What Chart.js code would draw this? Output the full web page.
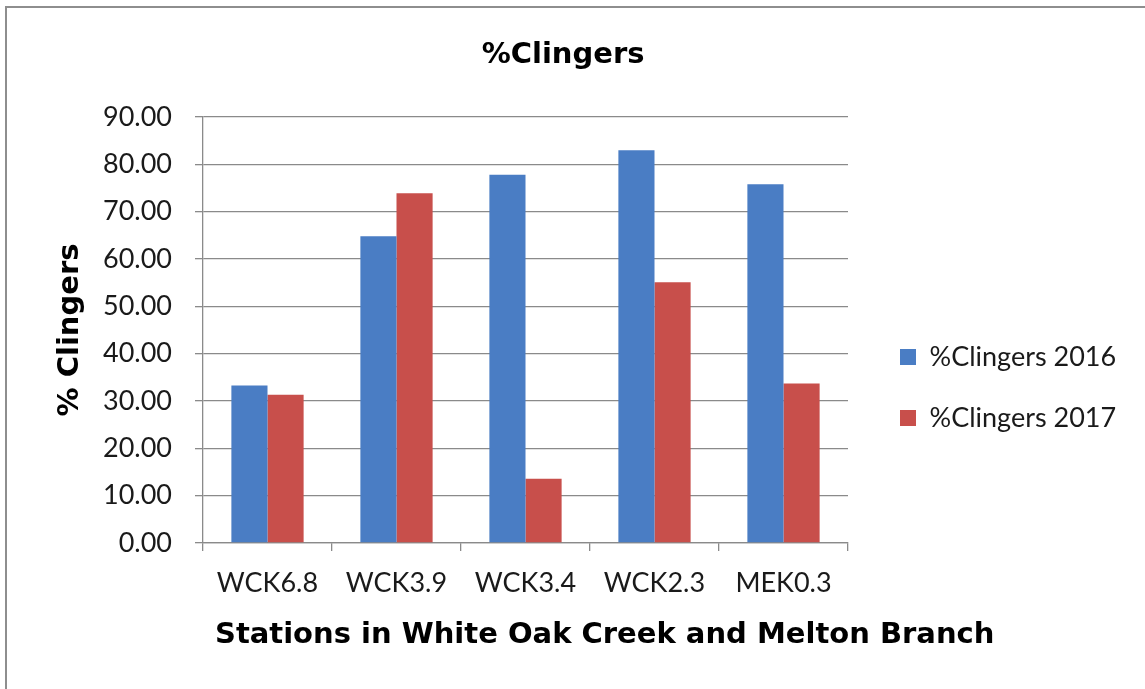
<!DOCTYPE html>
<html>
<head>
<meta charset="utf-8">
<title>%Clingers</title>
<script src="https://cdn.jsdelivr.net/npm/chart.js@4.4.1/dist/chart.umd.min.js"></script>
<style>
  html, body { margin: 0; padding: 0; background: #fff; }
  #wrap { position: relative; width: 1145px; height: 689px; }
  #wrap canvas { position: absolute; left: 0; top: 0; }
  /* thin frame round the chart, like the exported picture */
  #frame { position: absolute; left: 5px; top: 6px; right: 0; bottom: 0;
           border-top: 2px solid #8e8e8e; border-left: 2px solid #8e8e8e; pointer-events: none; }
</style>
</head>
<body>
<div id="wrap">
  <canvas id="clingers" width="1145" height="689"></canvas>
  <div id="frame"></div>
</div>
<script>
const stations = ['WCK6.8', 'WCK3.9', 'WCK3.4', 'WCK2.3', 'MEK0.3'];
const clingers2016 = [33.3, 64.8, 77.8, 83.0, 75.8];
const clingers2017 = [31.3, 73.9, 13.6, 55.1, 33.7];
const seriesNames = ['%Clingers 2016', '%Clingers 2017'];
const yTicks = [0, 10, 20, 30, 40, 50, 60, 70, 80, 90];
const xAxisTitle = 'Stations in White Oak Creek and Melton Branch';

const FONT = "Lato, 'Open Sans', sans-serif";
const BOLD_FONT = "'DejaVu Sans', Verdana, sans-serif";
const gridColor = '#8a8a8a';

// legend sizing: rows are fontSize + padding apart, box sits left of the text
const legendFontSize = 27;
const legendGap = 34;
const legendBox = 16;
const mctx = document.createElement('canvas').getContext('2d');
mctx.font = legendFontSize + 'px ' + FONT;
const legendTextW = Math.max(...seriesNames.map(s => mctx.measureText(s).width));
const legendW = legendGap + legendBox + legendFontSize / 2 + legendTextW + 10;
const plotRight = 848;
const legendLeft = 900 - legendGap;
const padRight = Math.max(0, 1145 - legendLeft - legendW);

// The axis title in the original runs wider than the plot, which Chart.js
// would squeeze to the scale width, so it is drawn under the x scale here.
const xTitlePlugin = {
    id: 'xAxisTitle',
    afterDraw(chart) {
        const { ctx } = chart;
        const x = chart.scales.x;
        ctx.save();
        ctx.font = 'bold 29px ' + BOLD_FONT;
        ctx.fillStyle = '#000';
        ctx.textAlign = 'left';
        ctx.textBaseline = 'middle';
        ctx.fillText(xAxisTitle, x.left + 12, x.bottom - 54);
        ctx.restore();
    },
};

const ctx = document.getElementById('clingers');
const chart = new Chart(ctx, {
    type: 'bar',
    data: {
        labels: stations,
        datasets: [
            {
                label: seriesNames[0],
                data: clingers2016,
                backgroundColor: '#4a7dc4',
                categoryPercentage: 0.56,
                barPercentage: 1.0,
            },
            {
                label: seriesNames[1],
                data: clingers2017,
                backgroundColor: '#c84f4b',
                categoryPercentage: 0.56,
                barPercentage: 1.0,
            },
        ],
    },
    plugins: [xTitlePlugin],
    options: {
        responsive: false,
        animation: false,
        devicePixelRatio: 1,
        layout: { padding: { left: 0, top: 0, bottom: 0, right: padRight } },
        plugins: {
            tooltip: { enabled: false },
            title: {
                display: true,
                text: '%Clingers',
                color: '#000',
                font: { family: BOLD_FONT, size: 29, weight: 'bold' },
                padding: { top: 37.6, bottom: 44.6 },
            },
            legend: {
                position: 'right',
                align: 'center',
                maxWidth: 600,
                // empty title only pushes the two rows down to where they sit in the picture
                title: { display: true, text: '', font: { size: 12 }, padding: { top: 71.6, bottom: 0 } },
                labels: {
                    boxWidth: legendBox,
                    boxHeight: legendBox,
                    padding: legendGap,
                    color: '#1a1a1a',
                    font: { family: FONT, size: legendFontSize },
                },
            },
        },
        scales: {
            x: {
                grid: { display: true, drawOnChartArea: false, drawTicks: true, tickLength: 8, color: gridColor, lineWidth: 1.3 },
                border: { display: true, color: gridColor, width: 1.3 },
                ticks: { color: '#1a1a1a', padding: 15.8, font: { family: FONT, size: 27 } },
                title: { display: false },
                afterFit: (scale) => { scale.height = 146; },
            },
            y: {
                min: 0,
                max: 90,
                afterBuildTicks: (scale) => { scale.ticks = yTicks.map(v => ({ value: v })); },
                grid: { color: gridColor, lineWidth: 1.3, tickLength: 8 },
                border: { display: true, color: gridColor, width: 1.3 },
                ticks: {
                    color: '#1a1a1a',
                    padding: 23,
                    font: { family: FONT, size: 27 },
                    callback: (v) => Number(v).toFixed(2),
                },
                title: {
                    display: true,
                    text: '% Clingers',
                    color: '#000',
                    font: { family: BOLD_FONT, size: 29, weight: 'bold' },
                    padding: { top: 52.6, bottom: 0 },
                },
                afterFit: (scale) => { scale.width = 203; },
            },
            // keeps a little room between the plot and the legend
            gap: {
                type: 'linear',
                position: 'right',
                display: true,
                grid: { display: false },
                ticks: { display: false },
                border: { display: false },
                afterFit: (scale) => { scale.width = legendLeft - plotRight; },
            },
        },
    },
});
</script>
</body>
</html>
